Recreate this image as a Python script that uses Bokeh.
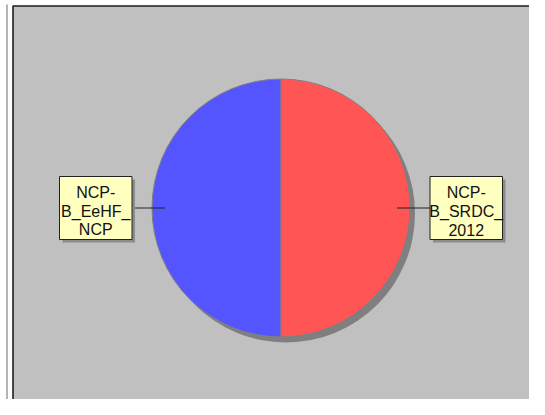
import math
from bokeh.plotting import figure
from bokeh.models import Range1d
from bokeh.embed import file_html
from bokeh.resources import INLINE
from bokeh.core.properties import value

# ---- data ----
categories = ["NCP-B_EeHF_NCP", "NCP-B_SRDC_2012"]
values = [50, 50]
label_lines = [["NCP-", "B_EeHF_", "NCP"], ["NCP-", "B_SRDC_", "2012"]]
colors = ["#5555FF", "#FF5555"]

# ---- figure in pixel coordinates ----
W, H = 529, 399
p = figure(width=W, height=H, x_range=Range1d(0, W), y_range=Range1d(H, 0),
           output_backend="svg", toolbar_location=None, min_border=0,
           x_axis_location=None, y_axis_location=None)
p.grid.visible = False
p.outline_line_color = None
p.background_fill_color = "white"
p.border_fill_color = "white"

# outer frame line
p.line(x=[6.5, 6.5], y=[4, 420], line_color="#6a6a6a", line_width=1)
# inner plot area
p.quad(left=12.5, right=560, top=5.5, bottom=410, fill_color="#C0C0C0",
       line_color="#1e1e1e", line_width=1.6)

# pie geometry
cx, cy, r = 280.5, 207.5, 129
total = sum(values)

# shadow
p.circle(x=[cx + 5], y=[cy + 5.5], radius=r, fill_color="#7f7f7f", line_color=None)

start = math.pi / 2
angles = []
for v, c in zip(values, colors):
    a = 2 * math.pi * v / total
    p.wedge(x=cx, y=cy, radius=r, start_angle=start, end_angle=start + a,
            fill_color=c, line_color="#808080", line_width=1, direction="anticlock")
    angles.append(start + a / 2)
    start += a

# labels
bw, bh = 72.5, 63
for lines, mid in zip(label_lines, angles):
    dx = math.cos(mid)
    side = -1 if dx < 0 else 1
    ly = cy
    edge_x = cx + side * (r + 20)
    bx0 = edge_x if side > 0 else edge_x - bw
    bx1 = bx0 + bw
    # connector
    p.line(x=[cx + side * (r - 13), edge_x], y=[ly, ly], line_color="#222222", line_width=1)
    # box shadow
    p.quad(left=bx0 + 3, right=bx1 + 3, top=ly - bh / 2 + 3, bottom=ly + bh / 2 + 3,
           fill_color="#8c8c8c", line_color=None)
    p.quad(left=bx0, right=bx1, top=ly - bh / 2, bottom=ly + bh / 2,
           fill_color="#FFFFC0", line_color="#202020", line_width=1)
    xs = [(bx0 + bx1) / 2] * len(lines)
    ys = [ly - 15.5 + 18.5 * i for i in range(len(lines))]
    p.text(x=xs, y=ys, text=lines, text_align="center",
           text_baseline="alphabetic", text_font=value("Liberation Sans"),
           text_font_size="16px", text_color="#111111")

open("out.html", "w").write(file_html(p, INLINE))
